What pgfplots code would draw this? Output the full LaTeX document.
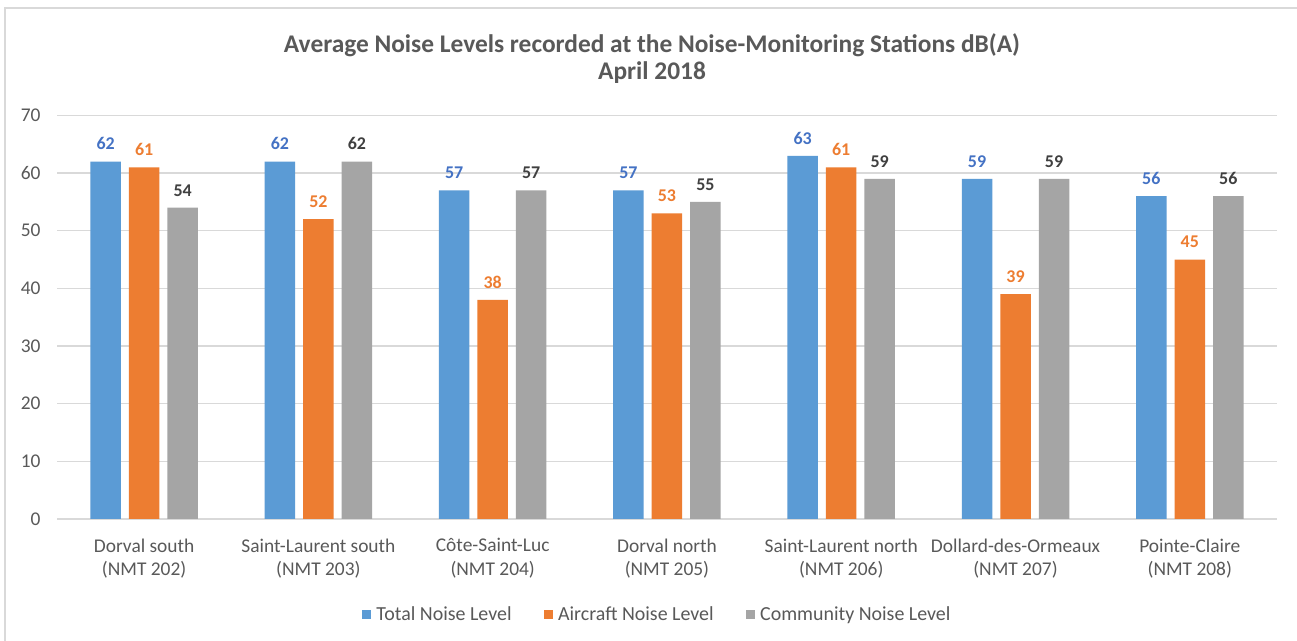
\documentclass[border=0pt]{standalone}
\usepackage{fontspec}
\setmainfont{Carlito}
\usepackage{pgfplots}
\pgfplotsset{compat=1.18}
\definecolor{cblue}{HTML}{5B9BD5}
\definecolor{corange}{HTML}{ED7D31}
\definecolor{cgray}{HTML}{A5A5A5}
\definecolor{lblue}{HTML}{4472C4}
\definecolor{lgray}{HTML}{404040}
\definecolor{ctext}{HTML}{595959}
\definecolor{cgrid}{HTML}{D9D9D9}
\begin{document}
\begin{tikzpicture}
\useasboundingbox (0,0) rectangle (1297bp,641bp);
\fill[white] (0,0) rectangle (1297bp,641bp);
\draw[cgrid, line width=2bp] (5bp,0) -- (5bp,633bp) -- (1297bp,633bp);
\node[font=\fontsize{25.5}{27}\selectfont\bfseries, text=ctext, align=center] at (652bp,582.5bp)
  {Average Noise Levels recorded at the Noise-Monitoring Stations dB(A)\\April 2018};
\begin{axis}[
  at={(57bp,122bp)}, anchor=south west,
  scale only axis, width=1220bp, height=403.6bp,
  xmin=-0.5, xmax=6.5, ymin=0, ymax=70,
  ytick={0,10,...,70},
  xtick={0,...,6},
  xticklabels={{Dorval south\\(NMT 202)},{Saint-Laurent south\\(NMT 203)},{Côte-Saint-Luc\\(NMT 204)},{Dorval north\\(NMT 205)},{Saint-Laurent north\\(NMT 206)},{Dollard-des-Ormeaux\\(NMT 207)},{Pointe-Claire\\(NMT 208)}},
  axis line style={draw=none},
  major tick length=0pt,
  ymajorgrids, grid style={cgrid, line width=1.3bp},
  /pgf/number format/assume math mode=true,
  yticklabel style={font=\fontsize{19.5}{23}\selectfont, text=ctext, xshift=-13bp},
  xticklabel style={font=\fontsize{19.5}{24}\selectfont, text=ctext, align=center, yshift=-16bp},
  ybar=8bp, bar width=30.5bp,
  nodes near coords,
  nodes near coords style={font=\fontsize{18}{20}\selectfont\bfseries, yshift=8bp},
  legend columns=-1,
  legend style={at={(axis description cs:0.492,-0.2354)}, anchor=center, draw=none, fill=none,
    font=\fontsize{20}{23}\selectfont, text=ctext,
    /tikz/every even column/.append style={column sep=30bp},
    /tikz/every odd column/.append style={column sep=3bp}},
  legend image code/.code={\fill[#1] (0bp,-5bp) rectangle (9.5bp,4.5bp);},
]
\addplot[fill=cblue, draw=none, every node near coord/.append style={text=lblue}] coordinates {(0,62) (1,62) (2,57) (3,57) (4,63) (5,59) (6,56)};
\addplot[fill=corange, draw=none, every node near coord/.append style={text=corange}] coordinates {(0,61) (1,52) (2,38) (3,53) (4,61) (5,39) (6,45)};
\addplot[fill=cgray, draw=none, every node near coord/.append style={text=lgray}] coordinates {(0,54) (1,62) (2,57) (3,55) (4,59) (5,59) (6,56)};
\legend{Total Noise Level, Aircraft Noise Level, Community Noise Level}
\end{axis}
\end{tikzpicture}
\end{document}
